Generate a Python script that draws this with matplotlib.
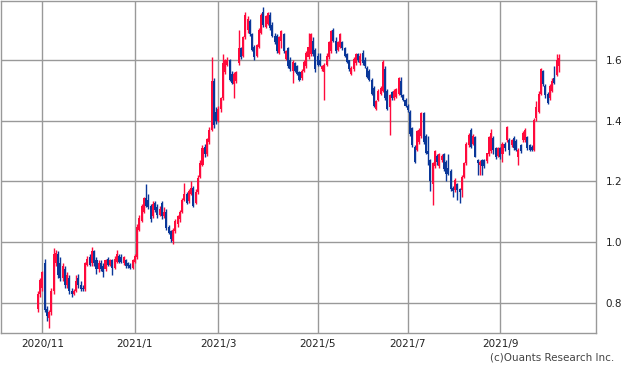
import numpy as np
import pandas as pd
import matplotlib
matplotlib.use("Agg")
import matplotlib.pyplot as plt

# trading days (Tokyo calendar)
holidays = ['2020-11-03', '2020-11-23', '2020-12-31', '2021-01-01', '2021-01-11',
            '2021-02-11', '2021-02-23', '2021-04-29', '2021-05-03', '2021-05-04',
            '2021-05-05', '2021-07-22', '2021-07-23', '2021-08-09', '2021-09-20',
            '2021-09-23']
dates = pd.bdate_range('2020-10-29', '2021-10-11')
dates = dates[~dates.isin(pd.to_datetime(holidays))]

opens = [.78, .83, .85, .93, .78, .75, .77, .84, .93, .96, .93, .88, .91, .86, .88, .84, .83, .84, .88, .86,
         .85, .845, .925, .95, .93, .97, .94, .91, .93, .92, .91, .945, .925, .94, .915, .935, .955, .95, .93, .94,
         .93, .925, .915, .935, .95, 1.04, 1.07, 1.10, 1.145, 1.14, 1.12, 1.085, 1.13, 1.115, 1.09, 1.13, 1.085, 1.10, 1.05, 1.035,
         1.005, 1.035, 1.06, 1.075, 1.10, 1.14, 1.16, 1.135, 1.16, 1.18, 1.13, 1.165, 1.215, 1.255, 1.315, 1.29, 1.33, 1.37, 1.53, 1.43,
         1.40, 1.44, 1.475, 1.56, 1.585, 1.60, 1.555, 1.52, 1.53, 1.59, 1.64, 1.615, 1.675, 1.70, 1.73, 1.685, 1.645, 1.615, 1.645, 1.69,
         1.76, 1.71, 1.72, 1.75, 1.715, 1.68, 1.68, 1.625, 1.665, 1.685, 1.605, 1.64, 1.60, 1.565, 1.59, 1.58, 1.56, 1.54, 1.565, 1.58,
         1.61, 1.62, 1.665, 1.635, 1.615, 1.60, 1.57, 1.56, 1.585, 1.61, 1.63, 1.70, 1.665, 1.635, 1.645, 1.66, 1.64, 1.62, 1.60, 1.555,
         1.57, 1.59, 1.62, 1.59, 1.625, 1.60, 1.575, 1.565, 1.535, 1.51, 1.44, 1.47, 1.49, 1.50, 1.57, 1.50, 1.447, 1.495, 1.475, 1.48,
         1.49, 1.53, 1.485, 1.47, 1.45, 1.43, 1.375, 1.315, 1.305, 1.33, 1.35, 1.425, 1.35, 1.30, 1.27, 1.19, 1.25, 1.285, 1.25, 1.27,
         1.29, 1.265, 1.245, 1.235, 1.18, 1.172, 1.19, 1.175, 1.172, 1.215, 1.26, 1.32, 1.37, 1.325, 1.348, 1.27, 1.255, 1.27, 1.27, 1.266,
         1.29, 1.30, 1.345, 1.31, 1.285, 1.31, 1.29, 1.325, 1.337, 1.337, 1.32, 1.345, 1.335, 1.28, 1.32, 1.337, 1.337, 1.348, 1.32, 1.315,
         1.304, 1.41, 1.43, 1.49, 1.563, 1.514, 1.49, 1.475, 1.50, 1.541, 1.55, 1.58]
highs = [.84, .88, .905, .945, .79, .775, .85, .98, .975, .97, .95, .93, .92, .90, .89, .85, .845, .89, .895, .87,
         .86, .935, .955, .96, .985, .975, .95, .94, .94, .93, .945, .95, .945, .945, .955, .975, .96, .96, .955, .945,
         .935, .93, .945, .96, 1.06, 1.09, 1.125, 1.15, 1.19, 1.16, 1.125, 1.135, 1.135, 1.125, 1.12, 1.135, 1.115, 1.11, 1.055, 1.04,
         1.045, 1.075, 1.09, 1.105, 1.145, 1.195, 1.165, 1.175, 1.20, 1.185, 1.175, 1.22, 1.27, 1.32, 1.325, 1.345, 1.38, 1.61, 1.54, 1.445,
         1.45, 1.48, 1.62, 1.605, 1.61, 1.605, 1.565, 1.56, 1.565, 1.70, 1.645, 1.68, 1.76, 1.745, 1.735, 1.69, 1.65, 1.655, 1.705, 1.755,
         1.776, 1.75, 1.76, 1.76, 1.725, 1.69, 1.685, 1.68, 1.70, 1.69, 1.635, 1.645, 1.61, 1.60, 1.595, 1.585, 1.565, 1.57, 1.60, 1.63,
         1.69, 1.69, 1.675, 1.64, 1.625, 1.625, 1.585, 1.59, 1.625, 1.665, 1.70, 1.705, 1.675, 1.665, 1.69, 1.665, 1.645, 1.625, 1.60, 1.58,
         1.61, 1.625, 1.625, 1.625, 1.635, 1.61, 1.58, 1.57, 1.54, 1.515, 1.47, 1.505, 1.515, 1.60, 1.58, 1.505, 1.49, 1.50, 1.505, 1.51,
         1.545, 1.545, 1.49, 1.475, 1.455, 1.435, 1.38, 1.32, 1.37, 1.375, 1.43, 1.43, 1.355, 1.35, 1.275, 1.265, 1.305, 1.29, 1.295, 1.29,
         1.295, 1.27, 1.29, 1.24, 1.185, 1.21, 1.195, 1.18, 1.22, 1.265, 1.33, 1.36, 1.376, 1.355, 1.35, 1.275, 1.27, 1.275, 1.275, 1.295,
         1.35, 1.372, 1.35, 1.315, 1.315, 1.315, 1.33, 1.33, 1.382, 1.345, 1.34, 1.35, 1.34, 1.31, 1.325, 1.365, 1.375, 1.35, 1.325, 1.32,
         1.41, 1.465, 1.497, 1.575, 1.567, 1.52, 1.495, 1.52, 1.54, 1.58, 1.619, 1.619]
lows = [.77, .82, .84, .77, .74, .718, .76, .83, .92, .88, .87, .87, .85, .85, .83, .82, .825, .835, .85, .84,
        .84, .84, .92, .92, .92, .92, .895, .90, .905, .885, .905, .92, .92, .89, .91, .93, .93, .93, .925, .915,
        .915, .91, .91, .93, .945, 1.035, 1.065, 1.095, 1.115, 1.11, 1.065, 1.08, 1.10, 1.08, 1.085, 1.075, 1.08, 1.04, 1.025, 1.0,
        .995, 1.03, 1.05, 1.065, 1.095, 1.135, 1.125, 1.13, 1.155, 1.115, 1.125, 1.16, 1.21, 1.25, 1.28, 1.285, 1.325, 1.365, 1.375, 1.39,
        1.395, 1.43, 1.47, 1.555, 1.58, 1.53, 1.52, 1.475, 1.525, 1.585, 1.605, 1.61, 1.67, 1.69, 1.68, 1.63, 1.60, 1.61, 1.64, 1.685,
        1.71, 1.705, 1.715, 1.70, 1.675, 1.655, 1.625, 1.62, 1.64, 1.625, 1.60, 1.575, 1.565, 1.525, 1.56, 1.55, 1.53, 1.535, 1.56, 1.575,
        1.605, 1.615, 1.615, 1.56, 1.58, 1.58, 1.565, 1.47, 1.58, 1.605, 1.625, 1.66, 1.625, 1.63, 1.64, 1.635, 1.61, 1.59, 1.565, 1.55,
        1.565, 1.585, 1.595, 1.585, 1.585, 1.575, 1.54, 1.53, 1.485, 1.445, 1.435, 1.465, 1.485, 1.495, 1.47, 1.435, 1.354, 1.47, 1.47, 1.475,
        1.485, 1.48, 1.465, 1.445, 1.43, 1.35, 1.315, 1.26, 1.30, 1.325, 1.345, 1.325, 1.29, 1.255, 1.17, 1.123, 1.245, 1.255, 1.245, 1.265,
        1.235, 1.20, 1.22, 1.17, 1.15, 1.165, 1.14, 1.128, 1.15, 1.21, 1.255, 1.315, 1.31, 1.32, 1.28, 1.222, 1.222, 1.222, 1.245, 1.26,
        1.285, 1.295, 1.29, 1.275, 1.28, 1.275, 1.265, 1.30, 1.33, 1.287, 1.315, 1.305, 1.30, 1.254, 1.295, 1.33, 1.33, 1.305, 1.30, 1.30,
        1.30, 1.40, 1.425, 1.485, 1.515, 1.475, 1.455, 1.47, 1.495, 1.52, 1.547, 1.56]
closes = [.83, .875, .90, .775, .755, .77, .84, .96, .965, .89, .88, .92, .86, .89, .84, .83, .84, .87, .86, .845,
          .845, .93, .945, .925, .97, .93, .91, .93, .91, .90, .94, .925, .94, .915, .945, .96, .935, .935, .95, .92,
          .92, .915, .94, .955, 1.05, 1.08, 1.12, 1.145, 1.12, 1.115, 1.075, 1.125, 1.105, 1.09, 1.11, 1.085, 1.10, 1.045, 1.03, 1.01,
          1.04, 1.07, 1.085, 1.10, 1.14, 1.16, 1.13, 1.17, 1.18, 1.12, 1.165, 1.21, 1.26, 1.31, 1.29, 1.34, 1.37, 1.53, 1.385, 1.40,
          1.44, 1.475, 1.59, 1.60, 1.60, 1.535, 1.525, 1.555, 1.56, 1.64, 1.61, 1.675, 1.75, 1.735, 1.685, 1.635, 1.61, 1.65, 1.70, 1.75,
          1.715, 1.745, 1.755, 1.705, 1.68, 1.66, 1.63, 1.675, 1.695, 1.63, 1.63, 1.58, 1.57, 1.595, 1.565, 1.555, 1.535, 1.565, 1.595, 1.625,
          1.645, 1.685, 1.62, 1.57, 1.585, 1.585, 1.58, 1.585, 1.615, 1.66, 1.695, 1.665, 1.63, 1.66, 1.685, 1.64, 1.615, 1.595, 1.57, 1.575,
          1.605, 1.62, 1.60, 1.615, 1.59, 1.58, 1.545, 1.535, 1.49, 1.45, 1.465, 1.50, 1.51, 1.595, 1.475, 1.44, 1.485, 1.475, 1.50, 1.505,
          1.54, 1.485, 1.47, 1.45, 1.435, 1.355, 1.32, 1.265, 1.365, 1.37, 1.425, 1.33, 1.295, 1.29, 1.20, 1.26, 1.30, 1.265, 1.29, 1.285,
          1.24, 1.225, 1.225, 1.175, 1.17, 1.205, 1.172, 1.165, 1.215, 1.26, 1.325, 1.354, 1.315, 1.35, 1.282, 1.26, 1.265, 1.25, 1.25, 1.293,
          1.348, 1.36, 1.305, 1.28, 1.31, 1.28, 1.325, 1.31, 1.38, 1.304, 1.337, 1.31, 1.305, 1.304, 1.30, 1.36, 1.37, 1.31, 1.305, 1.304,
          1.404, 1.447, 1.49, 1.57, 1.52, 1.486, 1.459, 1.514, 1.53, 1.525, 1.60, 1.608]

tick_months = ['2020-11', '2021-01', '2021-03', '2021-05', '2021-07', '2021-09']
tick_labels = ['2020/11', '2021/1', '2021/3', '2021/5', '2021/7', '2021/9']

o = np.array(opens)
h = np.array(highs)
l = np.array(lows)
c = np.array(closes)
x = np.arange(len(dates))
up = c >= o
colors = np.where(up, '#ff0a3c', '#0a3799')

fig = plt.figure(figsize=(6.22, 3.75), dpi=100)
ax = fig.add_axes([0.001, 0.112, 0.957, 0.885])

ax.vlines(x, l, h, colors=colors, linewidth=1.0, zorder=3)
body = np.maximum(np.abs(c - o), 0.003)
ax.bar(x, body, bottom=np.minimum(o, c), width=0.9, color=colors, linewidth=0, zorder=3)

month_str = dates.strftime('%Y-%m')
tick_pos = [int(np.argmax(month_str == m)) for m in tick_months]
ax.set_xticks(tick_pos)
ax.set_xticklabels(tick_labels)
ax.set_xlim(-16.5, 247.4)
ax.set_ylim(0.70, 1.795)
ax.set_yticks([0.8, 1.0, 1.2, 1.4, 1.6])
ax.set_yticklabels(['0.8', '1.0', '1.2', '1.4', '1.6'])
ax.yaxis.tick_right()
ax.tick_params(axis='both', length=0, labelsize=7.5, colors='#222222')
ax.tick_params(axis='y', pad=7)
ax.tick_params(axis='x', pad=4)
ax.grid(True, color='#999999', linewidth=1.0, zorder=0)
for s in ax.spines.values():
    s.set_color('#999999')
    s.set_linewidth(1.0)

fig.text(614 / 622, 1 - 357 / 375, '(c)Ouants Research Inc.', ha='right', va='center',
         fontsize=7.5, color='#444444')

fig.savefig('out.png', dpi=100)
